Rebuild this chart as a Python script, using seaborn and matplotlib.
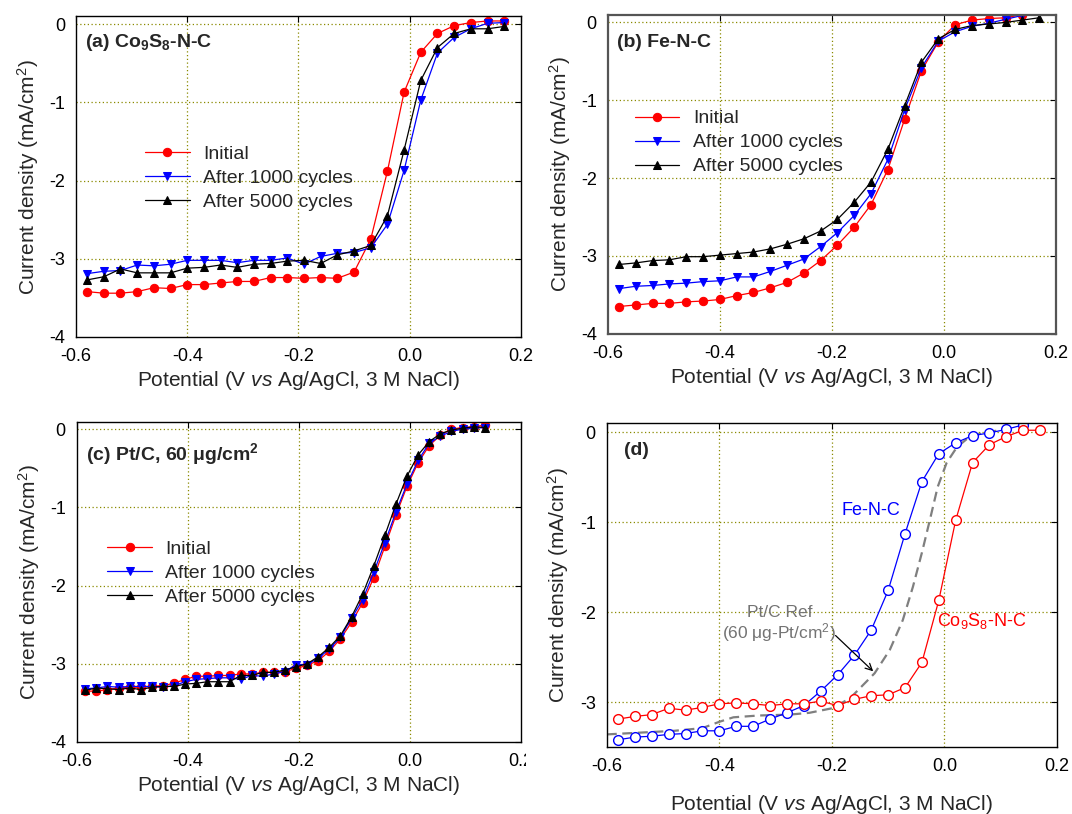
import numpy as np
import pandas as pd
import seaborn as sns
import matplotlib.pyplot as plt
from matplotlib.transforms import Bbox, TransformedBbox

# potentials (V vs Ag/AgCl)
x_26 = [-0.58, -0.55, -0.52, -0.49, -0.46, -0.43, -0.40, -0.37, -0.34, -0.31, -0.28, -0.25, -0.22,
        -0.19, -0.16, -0.13, -0.10, -0.07, -0.04, -0.01, 0.02, 0.05, 0.08, 0.11, 0.14, 0.17]
x_25 = x_26[:25]
x_c = [-0.585, -0.565, -0.545, -0.525, -0.505, -0.485, -0.465, -0.445, -0.425, -0.405, -0.385, -0.365,
       -0.345, -0.325, -0.305, -0.285, -0.265, -0.245, -0.225, -0.205, -0.185, -0.165, -0.145, -0.125,
       -0.105, -0.085, -0.065, -0.045, -0.025, -0.005, 0.015, 0.035, 0.055, 0.075, 0.095, 0.115, 0.135]

# (a) Co9S8-N-C
a_init = [-3.42, -3.44, -3.44, -3.42, -3.37, -3.38, -3.33, -3.33, -3.31, -3.29, -3.29, -3.24, -3.24,
          -3.25, -3.24, -3.25, -3.17, -2.75, -1.88, -0.87, -0.36, -0.12, -0.02, 0.02, 0.04, 0.04]
a_1000 = [-3.19, -3.16, -3.15, -3.08, -3.09, -3.07, -3.02, -3.02, -3.02, -3.05, -3.02, -3.02, -2.99,
          -3.07, -2.97, -2.93, -2.92, -2.86, -2.56, -1.87, -0.97, -0.37, -0.17, -0.06, 0.01, 0.02]
a_5000 = [-3.27, -3.23, -3.13, -3.18, -3.18, -3.18, -3.12, -3.11, -3.08, -3.11, -3.07, -3.06, -3.03,
          -3.02, -3.06, -2.95, -2.90, -2.83, -2.45, -1.61, -0.72, -0.30, -0.12, -0.06, -0.06, -0.03]

# (b) Fe-N-C
b_init = [-3.65, -3.63, -3.61, -3.61, -3.59, -3.58, -3.56, -3.51, -3.47, -3.41, -3.34, -3.22, -3.06,
          -2.86, -2.63, -2.34, -1.89, -1.24, -0.62, -0.25, -0.03, 0.03, 0.05, 0.06, 0.10]
b_1000 = [-3.42, -3.39, -3.38, -3.36, -3.35, -3.33, -3.32, -3.27, -3.27, -3.20, -3.12, -3.04, -2.88,
          -2.70, -2.48, -2.20, -1.76, -1.12, -0.58, -0.24, -0.12, -0.05, -0.01, 0.04, 0.09]
b_5000 = [-3.11, -3.09, -3.06, -3.05, -3.01, -3.01, -2.99, -2.97, -2.95, -2.91, -2.85, -2.78, -2.68,
          -2.53, -2.31, -2.05, -1.63, -1.07, -0.51, -0.21, -0.09, -0.04, -0.02, 0.00, 0.03, 0.06]

# (c) Pt/C
c_init = [-3.35, -3.35, -3.33, -3.31, -3.30, -3.30, -3.29, -3.28, -3.25, -3.20, -3.16, -3.16, -3.15,
          -3.15, -3.13, -3.13, -3.11, -3.11, -3.10, -3.06, -3.02, -2.96, -2.84, -2.68, -2.47, -2.22,
          -1.90, -1.50, -1.10, -0.73, -0.43, -0.21, -0.08, 0.00, 0.02, 0.03, 0.05]
c_1000 = [-3.32, -3.31, -3.29, -3.30, -3.29, -3.29, -3.29, -3.30, -3.28, -3.23, -3.20, -3.19, -3.18,
          -3.18, -3.20, -3.15, -3.16, -3.13, -3.10, -3.01, -3.01, -2.93, -2.81, -2.66, -2.42, -2.18,
          -1.83, -1.45, -1.06, -0.70, -0.40, -0.18, -0.09, -0.03, 0.00, 0.01, 0.02]
c_5000 = [-3.34, -3.31, -3.32, -3.33, -3.31, -3.33, -3.30, -3.29, -3.29, -3.26, -3.25, -3.23, -3.23,
          -3.23, -3.15, -3.15, -3.11, -3.11, -3.08, -3.04, -3.00, -2.91, -2.79, -2.64, -2.40, -2.11,
          -1.75, -1.36, -0.96, -0.60, -0.33, -0.16, -0.06, -0.01, 0.01, 0.03, 0.02]

# (d) comparison
d_fe = [-3.42, -3.39, -3.38, -3.36, -3.35, -3.32, -3.32, -3.27, -3.27, -3.19, -3.12, -3.04, -2.88,
        -2.70, -2.48, -2.20, -1.76, -1.13, -0.55, -0.24, -0.12, -0.04, -0.01, 0.03, 0.08]
d_co = [-3.19, -3.16, -3.14, -3.07, -3.09, -3.06, -3.02, -3.01, -3.02, -3.04, -3.02, -3.02, -2.99,
        -3.04, -2.97, -2.93, -2.92, -2.84, -2.56, -1.87, -0.98, -0.34, -0.14, -0.05, 0.02, 0.02]
ref_x = [-0.60, -0.54, -0.48, -0.43, -0.40, -0.375, -0.33, -0.275, -0.24, -0.20, -0.168, -0.124,
         -0.097, -0.074, -0.056, -0.040, -0.026, -0.012, 0.004, 0.022, 0.045, 0.075, 0.10]
ref_y = [-3.36, -3.34, -3.32, -3.29, -3.22, -3.17, -3.15, -3.14, -3.12, -3.07, -2.96, -2.68,
         -2.42, -2.09, -1.72, -1.34, -0.98, -0.61, -0.34, -0.17, -0.05, 0.00, 0.02]

labels = ['Initial', 'After 1000 cycles', 'After 5000 cycles']
xticks = [-0.6, -0.4, -0.2, 0.0, 0.2]
xticklabels = ['-0.6', '-0.4', '-0.2', '0.0', '0.2']

sns.set_theme(style='white')
plt.rcParams['font.family'] = ['Liberation Sans', 'DejaVu Sans']
plt.rcParams['mathtext.fontset'] = 'custom'
plt.rcParams['mathtext.rm'] = 'Liberation Sans'
plt.rcParams['mathtext.it'] = 'Liberation Sans:italic'
plt.rcParams['mathtext.bf'] = 'Liberation Sans:bold'
plt.rcParams['axes.unicode_minus'] = False

fig = plt.figure(figsize=(10.72, 8.14), dpi=100)
ax_a = fig.add_axes([0.0709, 0.586, 0.415, 0.394])
ax_b = fig.add_axes([0.567, 0.590, 0.418, 0.392])
ax_c = fig.add_axes([0.0718, 0.0885, 0.414, 0.393])
ax_d = fig.add_axes([0.566, 0.0823, 0.420, 0.398])

xlabel = r'Potential (V $\mathit{vs}$ Ag/AgCl, 3 M NaCl)'
ylabel = r'Current density (mA/cm$^2$)'
grid_col = '#8a8a00'


def style_axis(ax, ylim, yticks, xpad=3):
    ax.set_xlim(-0.6, 0.2)
    ax.set_ylim(*ylim)
    ax.set_xticks(xticks)
    ax.set_xticklabels(xticklabels)
    ax.set_yticks(yticks)
    ax.set_yticklabels([f'{t:d}' for t in yticks])
    ax.tick_params(direction='in', length=4, width=0.8, top=True, right=True,
                   labelsize=13, pad=8, colors='black')
    for s in ax.spines.values():
        s.set_color('black')
        s.set_linewidth(1.0)
    for xv in xticks[1:-1]:
        ax.axvline(xv, color=grid_col, ls=(0, (1, 2)), lw=0.9, zorder=0)
    for yv in yticks:
        if ylim[0] < yv < ylim[1]:
            ax.axhline(yv, color=grid_col, ls=(0, (1, 2)), lw=0.9, zorder=0)
    ax.set_xlabel(xlabel, fontsize=15, labelpad=xpad)
    ax.set_ylabel(ylabel, fontsize=15, labelpad=6)


def three_series(ax, xs, ys):
    styles = [('red', 'o', 6), ('blue', 'v', 6), ('black', '^', 6)]
    for x, y, lab, (col, mk, ms) in zip(xs, ys, labels, styles):
        sns.lineplot(x=x, y=y, ax=ax, color=col, marker=mk, markersize=ms,
                     markeredgecolor=col, lw=0.9, label=lab, sort=False, estimator=None)


three_series(ax_a, [x_26, x_26, x_26], [a_init, a_1000, a_5000])
three_series(ax_b, [x_25, x_25, x_26], [b_init, b_1000, b_5000])
three_series(ax_c, [x_c, x_c, x_c], [c_init, c_1000, c_5000])

leg_kw = dict(loc='upper left', frameon=False, fontsize=14, handlelength=2.3,
              handletextpad=0.7, labelspacing=0.33, borderpad=0, borderaxespad=0)
ax_a.legend(bbox_to_anchor=(0.155, 0.597), **leg_kw)
ax_b.legend(bbox_to_anchor=(0.060, 0.702), **leg_kw)
ax_c.legend(bbox_to_anchor=(0.068, 0.631), **leg_kw)

# (d)
sns.lineplot(x=ref_x, y=ref_y, ax=ax_d, color='#7f7f7f', lw=1.6, dashes=False,
             sort=False, estimator=None).lines[-1].set_dashes((4.5, 2.5))
sns.lineplot(x=x_25, y=d_fe, ax=ax_d, color='blue', marker='o', markersize=7,
             markerfacecolor='white', markeredgecolor='blue', markeredgewidth=1.0,
             lw=0.9, sort=False, estimator=None)
sns.lineplot(x=x_26, y=d_co, ax=ax_d, color='red', marker='o', markersize=7,
             markerfacecolor='white', markeredgecolor='red', markeredgewidth=1.0,
             lw=0.9, sort=False, estimator=None)

style_axis(ax_a, (-4, 0.1), [0, -1, -2, -3, -4])
style_axis(ax_b, (-4, 0.1), [0, -1, -2, -3, -4])
style_axis(ax_c, (-4, 0.09), [0, -1, -2, -3, -4])
style_axis(ax_d, (-3.5, 0.1), [0, -1, -2, -3], xpad=13)

for s in ax_b.spines.values():
    s.set_color('#555555')
    s.set_linewidth(1.6)

ax_d.text(-0.13, -0.87, 'Fe-N-C', color='blue', fontsize=13, ha='center', va='center')
ax_d.text(0.067, -2.1, r'Co$_9$S$_8$-N-C', color='red', fontsize=13, ha='center', va='center')
ax_d.text(-0.292, -2.0, 'Pt/C Ref', color='#737373', fontsize=12.5, ha='center', va='center')
ax_d.text(-0.294, -2.23, '(60 \u03bcg-Pt/cm$^2$)', color='#737373', fontsize=12.5,
          ha='center', va='center')
ax_d.annotate('', xy=(-0.123, -2.68), xytext=(-0.197, -2.24),
              arrowprops=dict(arrowstyle='->', color='black', lw=0.9))

title_kw = dict(fontsize=14, fontweight='bold', va='top', ha='left')
ax_a.text(0.02, 0.95, r'(a) Co$_\mathbf{9}$S$_\mathbf{8}$-N-C', transform=ax_a.transAxes, **title_kw)
ax_b.text(0.02, 0.94, '(b) Fe-N-C', transform=ax_b.transAxes, **title_kw)
ax_c.text(0.02, 0.94, '(c) Pt/C, 60 \u03bcg/cm$^\\mathbf{2}$', transform=ax_c.transAxes, **title_kw)
ax_d.text(0.038, 0.94, '(d)', transform=ax_d.transAxes, **title_kw)

# the reference picture cuts the last tick label of panel (c) at its right edge
clip = TransformedBbox(Bbox([[0, 0], [526 / 1072, 1]]), fig.transFigure)
for lbl in ax_c.get_xticklabels():
    lbl.set_clip_box(clip)
    lbl.set_clip_on(True)

fig.savefig('out.png', dpi=100)
